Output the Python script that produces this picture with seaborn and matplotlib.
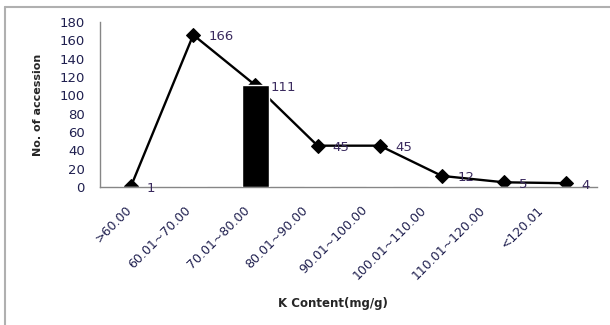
import numpy as np
import pandas as pd
import seaborn as sns
import matplotlib.pyplot as plt
from matplotlib.lines import Line2D

# ---------- data ----------
categories = [">60.00", "60.01~70.00", "70.01~80.00", "80.01~90.00",
              "90.01~100.00", "100.01~110.00", "110.01~120.00", "<120.01"]
counts = [1, 166, 111, 45, 45, 12, 5, 4]
bar_values = [0, 0, 111, 0, 0, 0, 0, 0]   # single highlighted bar

df = pd.DataFrame({"range": categories, "n": counts, "bar": bar_values})

# ---------- style ----------
sns.set_style("white")
plt.rcParams["font.family"] = ["DejaVu Sans"]
txt_col = "#1f1f4f"
spine_col = "#868686"

fig = plt.figure(figsize=(6.1, 3.25), dpi=100)
ax = fig.add_axes([0.164, 0.425, 0.815, 0.507])

# outer frame (left and top only, like the cropped screenshot)
fig.add_artist(Line2D([5 / 610, 5 / 610], [0, 1 - 7 / 325], transform=fig.transFigure,
                      color="#b0b0b0", lw=1.5))
fig.add_artist(Line2D([5 / 610, 1], [1 - 7 / 325, 1 - 7 / 325], transform=fig.transFigure,
                      color="#b0b0b0", lw=1.5))

x = np.arange(len(categories))

sns.lineplot(x=x, y=df["n"], ax=ax, color="black", lw=1.7,
             marker="D", markersize=7, markeredgecolor="black", zorder=2)
ax.bar(x, df["bar"], width=0.43, color="black", zorder=3)

for xi, v in zip(x, df["n"]):
    ax.annotate(str(v), (xi, v), xytext=(11, -1.5), textcoords="offset points",
                ha="left", va="center", fontsize=9.5, color="#3a2a5e", zorder=4)

# ---------- axes ----------
ax.set_xlim(-0.5, len(categories) - 0.5)
ax.set_ylim(0, 180)
ax.set_yticks(range(0, 181, 20))
ax.set_xticks(np.arange(-0.5, len(categories), 1.0))
ax.set_xticklabels([])
# rotated labels drift slightly left of the category centres, as in Excel
ax.set_xticks(x * 0.948 - 0.1, minor=True)
ax.set_xticklabels(categories, minor=True, rotation=45, ha="right",
                   rotation_mode="anchor", fontsize=9, color=txt_col)
ax.tick_params(axis="x", which="minor", length=0, pad=12)
ax.tick_params(axis="x", which="major", length=4, color=spine_col, direction="out")
ax.tick_params(axis="y", length=4, color=spine_col, direction="out",
               labelsize=9.5, labelcolor=txt_col, pad=7)

for s in ["top", "right"]:
    ax.spines[s].set_visible(False)
for s in ["left", "bottom"]:
    ax.spines[s].set_color(spine_col)
    ax.spines[s].set_linewidth(1.0)

ax.set_ylabel("No. of accession", fontsize=8, fontweight="bold")
ax.yaxis.set_label_coords(-0.115, 0.5)
ax.set_xlabel("K Content(mg/g)", fontsize=8.5, fontweight="bold")
ax.xaxis.set_label_coords(0.469, -0.67)

fig.savefig("out.png", dpi=100)
